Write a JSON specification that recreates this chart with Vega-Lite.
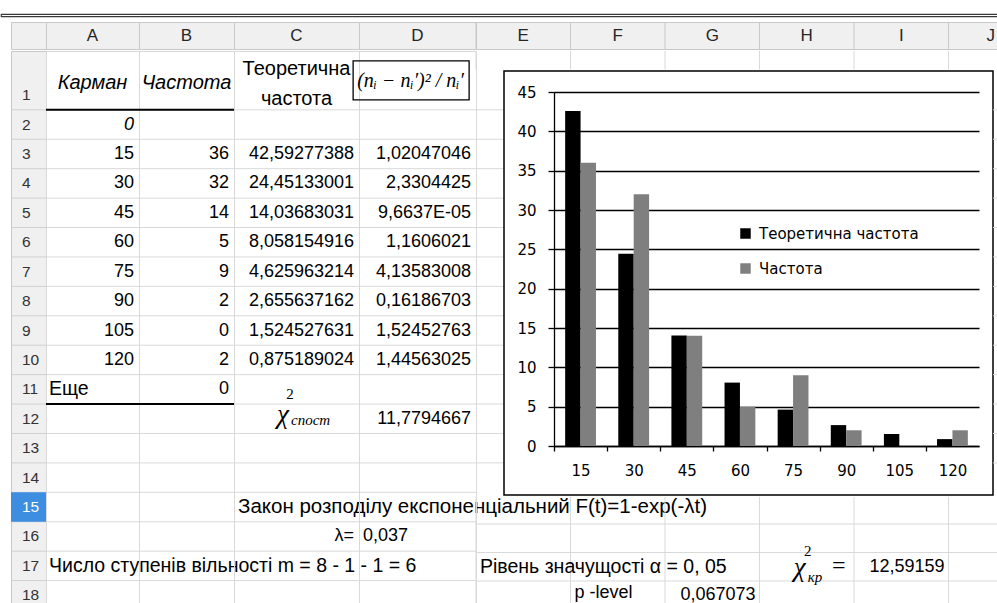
{
"$schema":"https://vega.github.io/schema/vega-lite/v6.json",
"padding":0,
"background":"white",
"spacing":0,
"bounds":"full",
"config":{"concat":{"spacing":0},"view":{"stroke":null}},
"datasets":{
"bars":[
{"bin":15,"series":"Теоретична частота","value":42.59277388},{"bin":15,"series":"Частота","value":36},
{"bin":30,"series":"Теоретична частота","value":24.45133001},{"bin":30,"series":"Частота","value":32},
{"bin":45,"series":"Теоретична частота","value":14.03683031},{"bin":45,"series":"Частота","value":14},
{"bin":60,"series":"Теоретична частота","value":8.058154916},{"bin":60,"series":"Частота","value":5},
{"bin":75,"series":"Теоретична частота","value":4.625963214},{"bin":75,"series":"Частота","value":9},
{"bin":90,"series":"Теоретична частота","value":2.655637162},{"bin":90,"series":"Частота","value":2},
{"bin":105,"series":"Теоретична частота","value":1.524527631},{"bin":105,"series":"Частота","value":0},
{"bin":120,"series":"Теоретична частота","value":0.875189024},{"bin":120,"series":"Частота","value":2}
],
"lines":[{"row":"2"},{"row":"3"},{"row":"4"},{"row":"5"},{"row":"6"},{"row":"7"},{"row":"8"},{"row":"9"},{"row":"10"},{"row":"11"},{"row":"12"},{"row":"13"},{"row":"14"},{"row":"15"},{"row":"16"},{"row":"17"},{"row":"18"}],
"rownums":[{"row":"1b","n":"1"},{"row":"2","n":"2"},{"row":"3","n":"3"},{"row":"4","n":"4"},{"row":"5","n":"5"},{"row":"6","n":"6"},{"row":"7","n":"7"},{"row":"8","n":"8"},{"row":"9","n":"9"},{"row":"10","n":"10"},{"row":"11","n":"11"},{"row":"12","n":"12"},{"row":"13","n":"13"},{"row":"14","n":"14"},{"row":"15","n":"15"},{"row":"16","n":"16"},{"row":"17","n":"17"},{"row":"18","n":"18"}],
"borders":[{"col":"A","row":"2"},{"col":"A","row":"12"},{"col":"B","row":"2"},{"col":"B","row":"12"}],
"rcols":[{"col":"E"},{"col":"F"},{"col":"G"},{"col":"H"},{"col":"I"},{"col":"J"}],
"cells":[
{"col":"A","row":"1b","text":"Карман","kind":"ital"},
{"col":"A","row":"2","text":"0","kind":"numi"},
{"col":"A","row":"3","text":"15","kind":"num"},
{"col":"A","row":"4","text":"30","kind":"num"},
{"col":"A","row":"5","text":"45","kind":"num"},
{"col":"A","row":"6","text":"60","kind":"num"},
{"col":"A","row":"7","text":"75","kind":"num"},
{"col":"A","row":"8","text":"90","kind":"num"},
{"col":"A","row":"9","text":"105","kind":"num"},
{"col":"A","row":"10","text":"120","kind":"num"},
{"col":"A","row":"11","text":"Еще","kind":"left"},
{"col":"A","row":"17","text":"Число ступенів вільності m = 8 - 1 - 1 = 6","kind":"left"},
{"col":"B","row":"1b","text":"Частота","kind":"ital"},
{"col":"B","row":"3","text":"36","kind":"num"},
{"col":"B","row":"4","text":"32","kind":"num"},
{"col":"B","row":"5","text":"14","kind":"num"},
{"col":"B","row":"6","text":"5","kind":"num"},
{"col":"B","row":"7","text":"9","kind":"num"},
{"col":"B","row":"8","text":"2","kind":"num"},
{"col":"B","row":"9","text":"0","kind":"num"},
{"col":"B","row":"10","text":"2","kind":"num"},
{"col":"B","row":"11","text":"0","kind":"num"},
{"col":"C","row":"1a","text":"Теоретична","kind":"cent"},
{"col":"C","row":"1b","text":"частота","kind":"cent"},
{"col":"C","row":"3","text":"42,59277388","kind":"num"},
{"col":"C","row":"4","text":"24,45133001","kind":"num"},
{"col":"C","row":"5","text":"14,03683031","kind":"num"},
{"col":"C","row":"6","text":"8,058154916","kind":"num"},
{"col":"C","row":"7","text":"4,625963214","kind":"num"},
{"col":"C","row":"8","text":"2,655637162","kind":"num"},
{"col":"C","row":"9","text":"1,524527631","kind":"num"},
{"col":"C","row":"10","text":"0,875189024","kind":"num"},
{"col":"C","row":"12","text":"χ","kind":"chi"},
{"col":"C","row":"12","text":"2","kind":"sup"},
{"col":"C","row":"12","text":"спост","kind":"sub"},
{"col":"C","row":"15","text":"Закон розподілу експоненціальний  F(t)=1-exp(-λt)","kind":"left"},
{"col":"C","row":"16","text":"λ=","kind":"num"},
{"col":"D","row":"1b","text":"(nᵢ − nᵢ′)² / nᵢ′","kind":"formula"},
{"col":"D","row":"3","text":"1,02047046","kind":"num"},
{"col":"D","row":"4","text":"2,3304425","kind":"num"},
{"col":"D","row":"5","text":"9,6637E-05","kind":"num"},
{"col":"D","row":"6","text":"1,1606021","kind":"num"},
{"col":"D","row":"7","text":"4,13583008","kind":"num"},
{"col":"D","row":"8","text":"0,16186703","kind":"num"},
{"col":"D","row":"9","text":"1,52452763","kind":"num"},
{"col":"D","row":"10","text":"1,44563025","kind":"num"},
{"col":"D","row":"12","text":"11,7794667","kind":"num"},
{"col":"D","row":"16","text":"0,037","kind":"numl"},
{"col":"E","row":"17","text":"Рівень значущості α = 0, 05","kind":"left"},
{"col":"F","row":"18","text":"p -level","kind":"numl"},
{"col":"G","row":"18","text":"0,067073","kind":"num"},
{"col":"H","row":"17","text":"χ","kind":"chi"},
{"col":"H","row":"17","text":"2","kind":"sup"},
{"col":"H","row":"17","text":"кр","kind":"sub"},
{"col":"H","row":"17","text":"=","kind":"eq"},
{"col":"I","row":"17","text":"12,59159","kind":"num"}
]
},
"vconcat":[
{"width":997,"height":12.5,"data":{"values":[]},"mark":"text","encoding":{"text":{"value":""}}},
{"width":997,"height":2.3,"view":{"stroke":"#3a3a3a","strokeWidth":1.2},"data":{"values":[]},"mark":"text","encoding":{"text":{"value":""}}},
{"width":997,"height":4,"data":{"values":[]},"mark":"text","encoding":{"text":{"value":""}}},
{"hconcat":[
 {"width":10,"height":27,"data":{"values":[]},"mark":"text","encoding":{"text":{"value":""}}},
 {"width":35,"height":27,"view":{"fill":"#f0f0f0","stroke":"#c8c8c8"},"data":{"values":[]},"mark":"text","encoding":{"text":{"value":""}}},
 {"width":93,"height":27,"view":{"fill":"#f0f0f0","stroke":"#c8c8c8"},"data":{"values":[{"c":"A"}]},"mark":{"type":"text","font":"Liberation Sans","fontSize":17,"color":"#262626"},"encoding":{"text":{"field":"c"}}},
 {"width":95,"height":27,"view":{"fill":"#f0f0f0","stroke":"#c8c8c8"},"data":{"values":[{"c":"B"}]},"mark":{"type":"text","font":"Liberation Sans","fontSize":17,"color":"#262626"},"encoding":{"text":{"field":"c"}}},
 {"width":125,"height":27,"view":{"fill":"#f0f0f0","stroke":"#c8c8c8"},"data":{"values":[{"c":"C"}]},"mark":{"type":"text","font":"Liberation Sans","fontSize":17,"color":"#262626"},"encoding":{"text":{"field":"c"}}},
 {"width":117,"height":27,"view":{"fill":"#f0f0f0","stroke":"#c8c8c8"},"data":{"values":[{"c":"D"}]},"mark":{"type":"text","font":"Liberation Sans","fontSize":17,"color":"#262626"},"encoding":{"text":{"field":"c"}}},
 {"width":522,"height":27,"view":{"fill":"#f0f0f0","stroke":"#c8c8c8"},"data":{"name":"rcols"},"layer":[
   {"mark":{"type":"rule","color":"#c8c8c8"},"encoding":{"x":{"field":"col","type":"ordinal","bandPosition":0,"scale":{"type":"band","domain":["E","F","G","H","I","J"],"range":[0,567],"paddingInner":0,"paddingOuter":0},"axis":null}}},
   {"transform":[{"filter":"datum.col!=='J'"}],"mark":{"type":"text","font":"Liberation Sans","fontSize":17,"color":"#262626"},"encoding":{"x":{"field":"col","type":"ordinal","bandPosition":0.5,"scale":{"type":"band","domain":["E","F","G","H","I","J"],"range":[0,567],"paddingInner":0,"paddingOuter":0},"axis":null},"text":{"field":"col"}}},
   {"transform":[{"filter":"datum.col==='J'"}],"mark":{"type":"text","font":"Liberation Sans","fontSize":17,"color":"#262626","dx":-5},"encoding":{"x":{"field":"col","type":"ordinal","bandPosition":0.5,"scale":{"type":"band","domain":["E","F","G","H","I","J"],"range":[0,567],"paddingInner":0,"paddingOuter":0},"axis":null},"text":{"field":"col"}}}
 ]}
],"spacing":0,"bounds":"flush"},
{"hconcat":[
 {"width":10,"height":554,"data":{"values":[]},"mark":"text","encoding":{"text":{"value":""}}},
 {"width":35,"height":554,"view":{"fill":"#f0f0f0","stroke":"#c8c8c8"},"layer":[
   {"data":{"name":"lines"},"mark":{"type":"rule","color":"#d0d0d0"},"encoding":{"y":{"field":"row","type":"ordinal","bandPosition":0,"scale":{"type":"band","domain":["1a","1b","2","3","4","5","6","7","8","9","10","11","12","13","14","15","16","17","18"],"range":[0,559],"paddingInner":0,"paddingOuter":0},"axis":null}}},
   {"data":{"name":"rownums"},"transform":[{"filter":"datum.row==='15'"}],"mark":{"type":"rect","color":"#3d8de0"},"encoding":{"y":{"field":"row","type":"ordinal","scale":{"type":"band","domain":["1a","1b","2","3","4","5","6","7","8","9","10","11","12","13","14","15","16","17","18"],"range":[0,559],"paddingInner":0,"paddingOuter":0},"axis":null}}},
   {"data":{"name":"rownums"},"transform":[{"filter":"datum.row!=='15'"}],"mark":{"type":"text","align":"left","dx":-6.5,"font":"Liberation Sans","fontSize":15.5,"color":"#333333"},"encoding":{"y":{"field":"row","type":"ordinal","bandPosition":0.5,"scale":{"type":"band","domain":["1a","1b","2","3","4","5","6","7","8","9","10","11","12","13","14","15","16","17","18"],"range":[0,559],"paddingInner":0,"paddingOuter":0},"axis":null},"text":{"field":"n"}}},
   {"data":{"name":"rownums"},"transform":[{"filter":"datum.row==='15'"}],"mark":{"type":"text","align":"left","dx":-6.5,"font":"Liberation Sans","fontSize":15.5,"color":"#ffffff"},"encoding":{"y":{"field":"row","type":"ordinal","bandPosition":0.5,"scale":{"type":"band","domain":["1a","1b","2","3","4","5","6","7","8","9","10","11","12","13","14","15","16","17","18"],"range":[0,559],"paddingInner":0,"paddingOuter":0},"axis":null},"text":{"field":"n"}}}
 ]},
 {"width":93,"height":554,"view":{"stroke":"#d9d9d9"},"layer":[
   {"data":{"name":"lines"},"mark":{"type":"rule","color":"#d9d9d9"},"encoding":{"y":{"field":"row","type":"ordinal","bandPosition":0,"scale":{"type":"band","domain":["1a","1b","2","3","4","5","6","7","8","9","10","11","12","13","14","15","16","17","18"],"range":[0,559],"paddingInner":0,"paddingOuter":0},"axis":null}}},
   {"data":{"name":"borders"},"transform":[{"filter":"datum.col==='A'"}],"mark":{"type":"rule","color":"#000000","strokeWidth":2},"encoding":{"y":{"field":"row","type":"ordinal","bandPosition":0,"scale":{"type":"band","domain":["1a","1b","2","3","4","5","6","7","8","9","10","11","12","13","14","15","16","17","18"],"range":[0,559],"paddingInner":0,"paddingOuter":0},"axis":null}}},
   {"data":{"name":"cells"},"transform":[{"filter":"datum.col==='A' && datum.kind==='num'"}],"mark":{"type":"text","align":"right","dx":41.5,"font":"Liberation Sans","fontSize":18,"color":"#000000"},"encoding":{"y":{"field":"row","type":"ordinal","bandPosition":0.5,"scale":{"type":"band","domain":["1a","1b","2","3","4","5","6","7","8","9","10","11","12","13","14","15","16","17","18"],"range":[0,559],"paddingInner":0,"paddingOuter":0},"axis":null},"text":{"field":"text"}}},
   {"data":{"name":"cells"},"transform":[{"filter":"datum.col==='A' && datum.kind==='numi'"}],"mark":{"type":"text","align":"right","dx":41.5,"font":"Liberation Sans","fontSize":18,"fontStyle":"italic","color":"#000000"},"encoding":{"y":{"field":"row","type":"ordinal","bandPosition":0.5,"scale":{"type":"band","domain":["1a","1b","2","3","4","5","6","7","8","9","10","11","12","13","14","15","16","17","18"],"range":[0,559],"paddingInner":0,"paddingOuter":0},"axis":null},"text":{"field":"text"}}},
   {"data":{"name":"cells"},"transform":[{"filter":"datum.col==='A' && datum.kind==='left'"}],"mark":{"type":"text","align":"left","dx":-43.5,"font":"Liberation Sans","fontSize":19.5,"color":"#000000"},"encoding":{"y":{"field":"row","type":"ordinal","bandPosition":0.5,"scale":{"type":"band","domain":["1a","1b","2","3","4","5","6","7","8","9","10","11","12","13","14","15","16","17","18"],"range":[0,559],"paddingInner":0,"paddingOuter":0},"axis":null},"text":{"field":"text"}}},
   {"data":{"name":"cells"},"transform":[{"filter":"datum.col==='A' && datum.kind==='ital'"}],"mark":{"type":"text","dy":2.5,"font":"Liberation Sans","fontSize":20,"fontStyle":"italic","color":"#000000"},"encoding":{"y":{"field":"row","type":"ordinal","bandPosition":0,"scale":{"type":"band","domain":["1a","1b","2","3","4","5","6","7","8","9","10","11","12","13","14","15","16","17","18"],"range":[0,559],"paddingInner":0,"paddingOuter":0},"axis":null},"text":{"field":"text"}}}
 ]},
 {"width":95,"height":554,"view":{"stroke":"#d9d9d9"},"layer":[
   {"data":{"name":"lines"},"mark":{"type":"rule","color":"#d9d9d9"},"encoding":{"y":{"field":"row","type":"ordinal","bandPosition":0,"scale":{"type":"band","domain":["1a","1b","2","3","4","5","6","7","8","9","10","11","12","13","14","15","16","17","18"],"range":[0,559],"paddingInner":0,"paddingOuter":0},"axis":null}}},
   {"data":{"name":"borders"},"transform":[{"filter":"datum.col==='B'"}],"mark":{"type":"rule","color":"#000000","strokeWidth":2},"encoding":{"y":{"field":"row","type":"ordinal","bandPosition":0,"scale":{"type":"band","domain":["1a","1b","2","3","4","5","6","7","8","9","10","11","12","13","14","15","16","17","18"],"range":[0,559],"paddingInner":0,"paddingOuter":0},"axis":null}}},
   {"data":{"name":"cells"},"transform":[{"filter":"datum.col==='B' && datum.kind==='num'"}],"mark":{"type":"text","align":"right","dx":42.5,"font":"Liberation Sans","fontSize":18,"color":"#000000"},"encoding":{"y":{"field":"row","type":"ordinal","bandPosition":0.5,"scale":{"type":"band","domain":["1a","1b","2","3","4","5","6","7","8","9","10","11","12","13","14","15","16","17","18"],"range":[0,559],"paddingInner":0,"paddingOuter":0},"axis":null},"text":{"field":"text"}}},
   {"data":{"name":"cells"},"transform":[{"filter":"datum.col==='B' && datum.kind==='ital'"}],"mark":{"type":"text","dy":2.5,"font":"Liberation Sans","fontSize":20,"fontStyle":"italic","color":"#000000"},"encoding":{"y":{"field":"row","type":"ordinal","bandPosition":0,"scale":{"type":"band","domain":["1a","1b","2","3","4","5","6","7","8","9","10","11","12","13","14","15","16","17","18"],"range":[0,559],"paddingInner":0,"paddingOuter":0},"axis":null},"text":{"field":"text"}}}
 ]},
 {"width":125,"height":554,"view":{"stroke":"#d9d9d9"},"layer":[
   {"data":{"name":"lines"},"mark":{"type":"rule","color":"#d9d9d9"},"encoding":{"y":{"field":"row","type":"ordinal","bandPosition":0,"scale":{"type":"band","domain":["1a","1b","2","3","4","5","6","7","8","9","10","11","12","13","14","15","16","17","18"],"range":[0,559],"paddingInner":0,"paddingOuter":0},"axis":null}}},
   {"data":{"name":"cells"},"transform":[{"filter":"datum.col==='C' && datum.kind==='num'"}],"mark":{"type":"text","align":"right","dx":57.5,"font":"Liberation Sans","fontSize":18,"color":"#000000"},"encoding":{"y":{"field":"row","type":"ordinal","bandPosition":0.5,"scale":{"type":"band","domain":["1a","1b","2","3","4","5","6","7","8","9","10","11","12","13","14","15","16","17","18"],"range":[0,559],"paddingInner":0,"paddingOuter":0},"axis":null},"text":{"field":"text"}}},
   {"data":{"name":"cells"},"transform":[{"filter":"datum.col==='C' && datum.kind==='left'"}],"mark":{"type":"text","align":"left","dx":-58.5,"font":"Liberation Sans","fontSize":20.5,"color":"#000000"},"encoding":{"y":{"field":"row","type":"ordinal","bandPosition":0.5,"scale":{"type":"band","domain":["1a","1b","2","3","4","5","6","7","8","9","10","11","12","13","14","15","16","17","18"],"range":[0,559],"paddingInner":0,"paddingOuter":0},"axis":null},"text":{"field":"text"}}},
   {"data":{"name":"cells"},"transform":[{"filter":"datum.col==='C' && datum.kind==='cent'"}],"mark":{"type":"text","dy":3.5,"font":"Liberation Sans","fontSize":20,"color":"#000000"},"encoding":{"y":{"field":"row","type":"ordinal","bandPosition":0.5,"scale":{"type":"band","domain":["1a","1b","2","3","4","5","6","7","8","9","10","11","12","13","14","15","16","17","18"],"range":[0,559],"paddingInner":0,"paddingOuter":0},"axis":null},"text":{"field":"text"}}},
   {"data":{"name":"cells"},"transform":[{"filter":"datum.col==='C' && datum.kind==='chi'"}],"mark":{"type":"text","dx":-13.5,"dy":-4,"font":"Liberation Serif","fontSize":27,"fontStyle":"italic","color":"#000000"},"encoding":{"y":{"field":"row","type":"ordinal","bandPosition":0.5,"scale":{"type":"band","domain":["1a","1b","2","3","4","5","6","7","8","9","10","11","12","13","14","15","16","17","18"],"range":[0,559],"paddingInner":0,"paddingOuter":0},"axis":null},"text":{"field":"text"}}},
   {"data":{"name":"cells"},"transform":[{"filter":"datum.col==='C' && datum.kind==='sup'"}],"mark":{"type":"text","dx":-6.5,"dy":-25,"font":"Liberation Serif","fontSize":15,"color":"#000000"},"encoding":{"y":{"field":"row","type":"ordinal","bandPosition":0.5,"scale":{"type":"band","domain":["1a","1b","2","3","4","5","6","7","8","9","10","11","12","13","14","15","16","17","18"],"range":[0,559],"paddingInner":0,"paddingOuter":0},"axis":null},"text":{"field":"text"}}},
   {"data":{"name":"cells"},"transform":[{"filter":"datum.col==='C' && datum.kind==='sub'"}],"mark":{"type":"text","align":"left","dx":-5.5,"dy":1,"font":"Liberation Serif","fontSize":15,"fontStyle":"italic","color":"#000000"},"encoding":{"y":{"field":"row","type":"ordinal","bandPosition":0.5,"scale":{"type":"band","domain":["1a","1b","2","3","4","5","6","7","8","9","10","11","12","13","14","15","16","17","18"],"range":[0,559],"paddingInner":0,"paddingOuter":0},"axis":null},"text":{"field":"text"}}}
 ]},
 {"width":117,"height":554,"view":{"stroke":"#d9d9d9"},"layer":[
   {"data":{"name":"lines"},"mark":{"type":"rule","color":"#d9d9d9"},"encoding":{"y":{"field":"row","type":"ordinal","bandPosition":0,"scale":{"type":"band","domain":["1a","1b","2","3","4","5","6","7","8","9","10","11","12","13","14","15","16","17","18"],"range":[0,559],"paddingInner":0,"paddingOuter":0},"axis":null}}},
   {"data":{"name":"cells"},"transform":[{"filter":"datum.col==='D' && datum.kind==='num'"}],"mark":{"type":"text","align":"right","dx":53.5,"font":"Liberation Sans","fontSize":18,"color":"#000000"},"encoding":{"y":{"field":"row","type":"ordinal","bandPosition":0.5,"scale":{"type":"band","domain":["1a","1b","2","3","4","5","6","7","8","9","10","11","12","13","14","15","16","17","18"],"range":[0,559],"paddingInner":0,"paddingOuter":0},"axis":null},"text":{"field":"text"}}},
   {"data":{"name":"cells"},"transform":[{"filter":"datum.col==='D' && datum.kind==='numl'"}],"mark":{"type":"text","align":"left","dx":-54.5,"font":"Liberation Sans","fontSize":18,"color":"#000000"},"encoding":{"y":{"field":"row","type":"ordinal","bandPosition":0.5,"scale":{"type":"band","domain":["1a","1b","2","3","4","5","6","7","8","9","10","11","12","13","14","15","16","17","18"],"range":[0,559],"paddingInner":0,"paddingOuter":0},"axis":null},"text":{"field":"text"}}},
   {"data":{"name":"cells"},"transform":[{"filter":"datum.col==='D' && datum.kind==='formula'"}],"mark":{"type":"point","shape":"M-1.11,-0.336L0.89,-0.336L0.89,0.336L-1.11,0.336Z","size":13456,"filled":false,"stroke":"#000000","strokeWidth":1.3,"opacity":1},"encoding":{"y":{"field":"row","type":"ordinal","bandPosition":0,"scale":{"type":"band","domain":["1a","1b","2","3","4","5","6","7","8","9","10","11","12","13","14","15","16","17","18"],"range":[0,559],"paddingInner":0,"paddingOuter":0},"axis":null}}},
   {"data":{"name":"cells"},"transform":[{"filter":"datum.col==='D' && datum.kind==='formula'"}],"mark":{"type":"text","dx":-7,"dy":1,"font":"Liberation Serif","fontSize":20,"fontStyle":"italic","color":"#000000"},"encoding":{"y":{"field":"row","type":"ordinal","bandPosition":0,"scale":{"type":"band","domain":["1a","1b","2","3","4","5","6","7","8","9","10","11","12","13","14","15","16","17","18"],"range":[0,559],"paddingInner":0,"paddingOuter":0},"axis":null},"text":{"field":"text"}}}
 ]},
 {"vconcat":[
   {"width":522,"height":18.5,"data":{"name":"rcols"},"mark":{"type":"rule","color":"#d9d9d9"},"encoding":{"x":{"field":"col","type":"ordinal","bandPosition":0,"scale":{"type":"band","domain":["E","F","G","H","I","J"],"range":[0,567],"paddingInner":0,"paddingOuter":0},"axis":null}}},
   {"hconcat":[
     {"width":28,"height":424,"data":{"name":"lines"},"transform":[{"filter":"toNumber(datum.row) <= 14"}],"mark":{"type":"rule","color":"#d9d9d9"},"encoding":{"y":{"field":"row","type":"ordinal","bandPosition":0,"scale":{"type":"band","domain":["1a","1b","2","3","4","5","6","7","8","9","10","11","12","13","14"],"range":[-20,421.3],"paddingInner":0,"paddingOuter":0},"axis":null}}},
     {"width":489,"height":424,"view":{"stroke":"#000000","strokeWidth":1.5,"fill":"white"},
      "data":{"name":"bars"},
      "mark":{"type":"bar"},
      "encoding":{
        "x":{"field":"bin","type":"ordinal","scale":{"type":"band","range":[50,475],"paddingInner":0.42,"paddingOuter":0.21},
             "axis":{"title":null,"labelAngle":0,"offset":-49,"tickOffset":-26.5625,"labelOffset":26.5625,"domainColor":"#000000","domainWidth":1.3,"tickColor":"#000000","tickWidth":1.3,"tickSize":5,"labelFont":"DejaVu Sans","labelFontSize":15,"labelColor":"#000000","labelPadding":12,"grid":false}},
        "xOffset":{"field":"series","type":"nominal","sort":["Теоретична частота","Частота"],"scale":{"paddingInner":0,"paddingOuter":0}},
        "y":{"field":"value","type":"quantitative","scale":{"domain":[0,45],"range":[375,21],"nice":false},
             "axis":{"title":null,"offset":-50,"values":[0,5,10,15,20,25,30,35,40,45],"grid":true,"gridColor":"#000000","gridWidth":1.3,"domainColor":"#000000","domainWidth":1.3,"tickColor":"#000000","tickWidth":1.3,"tickSize":6,"labelFont":"DejaVu Sans","labelFontSize":15,"labelColor":"#000000","labelPadding":12}},
        "color":{"field":"series","type":"nominal","scale":{"domain":["Теоретична частота","Частота"],"range":["#000000","#7f7f7f"]},
             "legend":{"title":null,"orient":"none","legendX":737,"legendY":226,"direction":"vertical","symbolType":"square","symbolSize":110,"symbolStrokeWidth":0,"labelFont":"DejaVu Sans","labelFontSize":15,"labelColor":"#000000","rowPadding":19,"labelOffset":6}}
      }},
     {"width":5,"height":424,"data":{"name":"lines"},"transform":[{"filter":"toNumber(datum.row) <= 14"}],"mark":{"type":"rule","color":"#d9d9d9"},"encoding":{"y":{"field":"row","type":"ordinal","bandPosition":0,"scale":{"type":"band","domain":["1a","1b","2","3","4","5","6","7","8","9","10","11","12","13","14"],"range":[-20,421.3],"paddingInner":0,"paddingOuter":0},"axis":null}}}
   ],"spacing":0,"bounds":"flush"},
   {"width":522,"height":110,"layer":[
     {"data":{"name":"lines"},"transform":[{"filter":"toNumber(datum.row) >= 16"}],"mark":{"type":"rule","color":"#d9d9d9"},"encoding":{"y":{"field":"row","type":"ordinal","bandPosition":0,"scale":{"type":"band","domain":["15","16","17","18"],"range":[-1.5,112.5],"paddingInner":0,"paddingOuter":0},"axis":null}}},
     {"data":{"name":"rcols"},"mark":{"type":"rule","color":"#d9d9d9"},"encoding":{"x":{"field":"col","type":"ordinal","bandPosition":0,"scale":{"type":"band","domain":["E","F","G","H","I","J"],"range":[0,567],"paddingInner":0,"paddingOuter":0},"axis":null}}},
     {"data":{"name":"cells"},"transform":[{"filter":"indexof(['E','F','G','H','I','J'], datum.col) >= 0 && datum.kind==='left'"}],"mark":{"type":"text","align":"left","dx":4,"font":"Liberation Sans","fontSize":19.5,"color":"#000000"},"encoding":{"x":{"field":"col","type":"ordinal","bandPosition":0,"scale":{"type":"band","domain":["E","F","G","H","I","J"],"range":[0,567],"paddingInner":0,"paddingOuter":0},"axis":null},"y":{"field":"row","type":"ordinal","bandPosition":0.5,"scale":{"type":"band","domain":["15","16","17","18"],"range":[-1.5,112.5],"paddingInner":0,"paddingOuter":0},"axis":null},"text":{"field":"text"}}},
     {"data":{"name":"cells"},"transform":[{"filter":"indexof(['E','F','G','H','I','J'], datum.col) >= 0 && datum.kind==='numl'"}],"mark":{"type":"text","align":"left","dx":4,"dy":-2,"font":"Liberation Sans","fontSize":18,"color":"#000000"},"encoding":{"x":{"field":"col","type":"ordinal","bandPosition":0,"scale":{"type":"band","domain":["E","F","G","H","I","J"],"range":[0,567],"paddingInner":0,"paddingOuter":0},"axis":null},"y":{"field":"row","type":"ordinal","bandPosition":0.5,"scale":{"type":"band","domain":["15","16","17","18"],"range":[-1.5,112.5],"paddingInner":0,"paddingOuter":0},"axis":null},"text":{"field":"text"}}},
     {"data":{"name":"cells"},"transform":[{"filter":"indexof(['E','F','G','H','I','J'], datum.col) >= 0 && datum.kind==='num'"}],"mark":{"type":"text","align":"right","dx":-4,"font":"Liberation Sans","fontSize":18,"color":"#000000"},"encoding":{"x":{"field":"col","type":"ordinal","bandPosition":1,"scale":{"type":"band","domain":["E","F","G","H","I","J"],"range":[0,567],"paddingInner":0,"paddingOuter":0},"axis":null},"y":{"field":"row","type":"ordinal","bandPosition":0.5,"scale":{"type":"band","domain":["15","16","17","18"],"range":[-1.5,112.5],"paddingInner":0,"paddingOuter":0},"axis":null},"text":{"field":"text"}}},
     {"data":{"name":"cells"},"transform":[{"filter":"indexof(['E','F','G','H','I','J'], datum.col) >= 0 && datum.kind==='chi'"}],"mark":{"type":"text","dx":-7,"dy":1,"font":"Liberation Serif","fontSize":27,"fontStyle":"italic","color":"#000000"},"encoding":{"x":{"field":"col","type":"ordinal","bandPosition":0.5,"scale":{"type":"band","domain":["E","F","G","H","I","J"],"range":[0,567],"paddingInner":0,"paddingOuter":0},"axis":null},"y":{"field":"row","type":"ordinal","bandPosition":0.5,"scale":{"type":"band","domain":["15","16","17","18"],"range":[-1.5,112.5],"paddingInner":0,"paddingOuter":0},"axis":null},"text":{"field":"text"}}},
     {"data":{"name":"cells"},"transform":[{"filter":"indexof(['E','F','G','H','I','J'], datum.col) >= 0 && datum.kind==='sup'"}],"mark":{"type":"text","dx":1,"dy":-16,"font":"Liberation Serif","fontSize":15,"color":"#000000"},"encoding":{"x":{"field":"col","type":"ordinal","bandPosition":0.5,"scale":{"type":"band","domain":["E","F","G","H","I","J"],"range":[0,567],"paddingInner":0,"paddingOuter":0},"axis":null},"y":{"field":"row","type":"ordinal","bandPosition":0.5,"scale":{"type":"band","domain":["15","16","17","18"],"range":[-1.5,112.5],"paddingInner":0,"paddingOuter":0},"axis":null},"text":{"field":"text"}}},
     {"data":{"name":"cells"},"transform":[{"filter":"indexof(['E','F','G','H','I','J'], datum.col) >= 0 && datum.kind==='sub'"}],"mark":{"type":"text","align":"left","dx":1,"dy":10,"font":"Liberation Serif","fontSize":15,"fontStyle":"italic","color":"#000000"},"encoding":{"x":{"field":"col","type":"ordinal","bandPosition":0.5,"scale":{"type":"band","domain":["E","F","G","H","I","J"],"range":[0,567],"paddingInner":0,"paddingOuter":0},"axis":null},"y":{"field":"row","type":"ordinal","bandPosition":0.5,"scale":{"type":"band","domain":["15","16","17","18"],"range":[-1.5,112.5],"paddingInner":0,"paddingOuter":0},"axis":null},"text":{"field":"text"}}},
     {"data":{"name":"cells"},"transform":[{"filter":"indexof(['E','F','G','H','I','J'], datum.col) >= 0 && datum.kind==='eq'"}],"mark":{"type":"text","dx":32,"dy":-1,"font":"Liberation Serif","fontSize":24,"color":"#000000"},"encoding":{"x":{"field":"col","type":"ordinal","bandPosition":0.5,"scale":{"type":"band","domain":["E","F","G","H","I","J"],"range":[0,567],"paddingInner":0,"paddingOuter":0},"axis":null},"y":{"field":"row","type":"ordinal","bandPosition":0.5,"scale":{"type":"band","domain":["15","16","17","18"],"range":[-1.5,112.5],"paddingInner":0,"paddingOuter":0},"axis":null},"text":{"field":"text"}}}
   ]}
 ],"spacing":0,"bounds":"full"}
],"spacing":0,"bounds":"flush"}
]
}
